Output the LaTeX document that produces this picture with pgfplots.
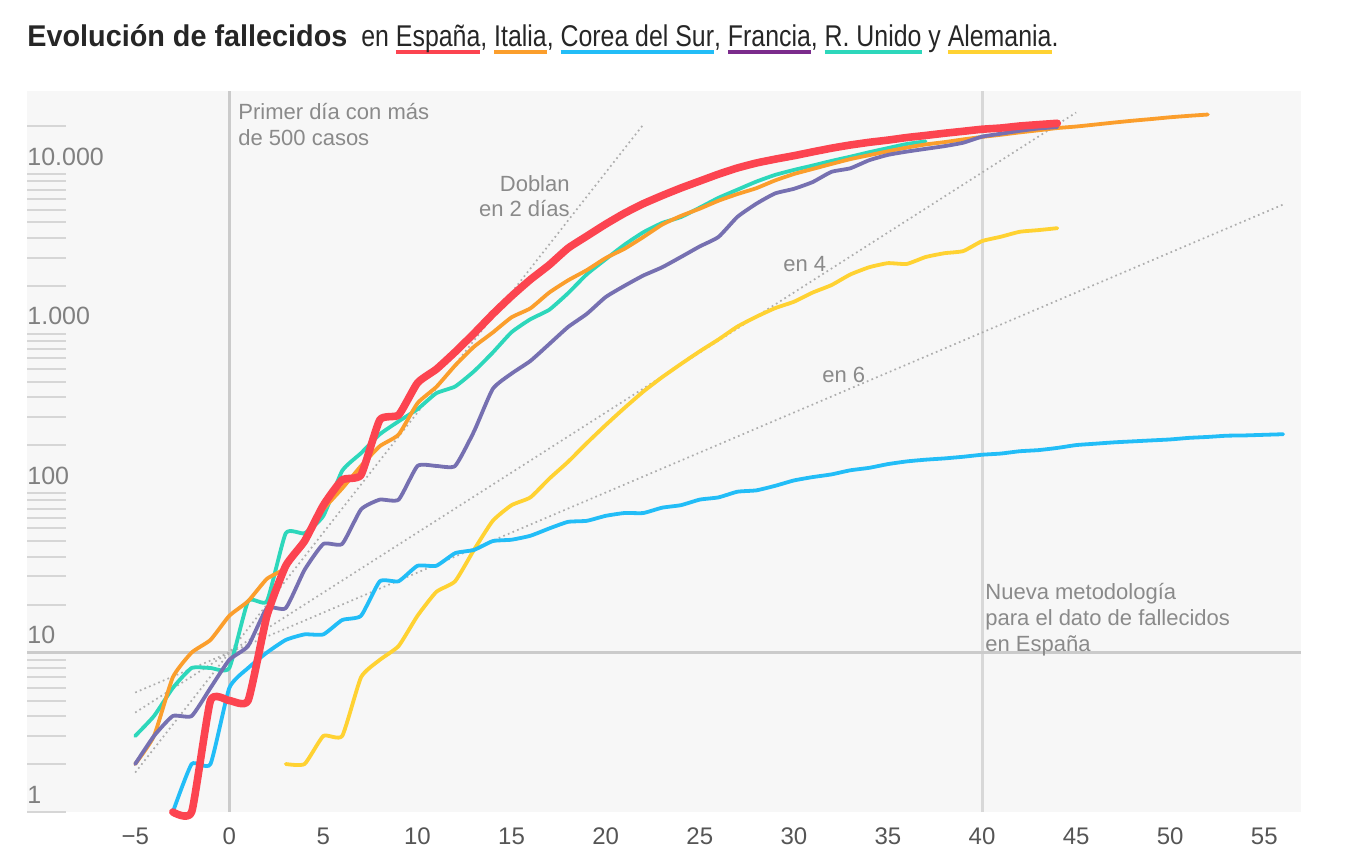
\documentclass[border=0pt]{standalone}
\usepackage{fontspec}
\setmainfont{Liberation Sans}
\usepackage{pgfplots}
\pgfplotsset{compat=1.18}
\usepackage{graphicx}

% series colours
\definecolor{cEsp}{HTML}{FC4450}
\definecolor{cIta}{HTML}{FB9E2C}
\definecolor{cCor}{HTML}{22BDF7}
\definecolor{cFra}{HTML}{7670B1}
\definecolor{cFraT}{HTML}{7B2C8C}
\definecolor{cRU}{HTML}{2DD7BB}
\definecolor{cAle}{HTML}{FFD232}
% frame colours
\definecolor{bgc}{HTML}{F7F7F7}
\definecolor{gridc}{HTML}{CBCBCB}
\definecolor{tickc}{HTML}{D6D6D6}
\definecolor{refc}{HTML}{ADADAD}
\definecolor{ytc}{HTML}{808080}
\definecolor{xtc}{HTML}{555555}
\definecolor{annc}{HTML}{8A8A8A}
\definecolor{titc}{HTML}{262626}

% coloured underline under a country name
\newcommand\ul[2]{\setbox0\hbox{#2}\rlap{\color{#1}\rule[-3.5pt]{\wd0}{2pt}}\box0\relax}
\newcommand\annfont{\fontsize{11pt}{13pt}\selectfont}

\pgfplotsset{
  serie/.style={line width=1.9pt, smooth, tension=0.3, line cap=round, line join=round},
  refline/.style={refc, line width=0.85pt, dash pattern=on 0.85pt off 1.65pt},
}

\begin{document}
\begin{tikzpicture}
\path[use as bounding box] (0,0) rectangle (678pt,432pt);
\begin{axis}[
  at={(13.5pt,26pt)}, anchor=south west,
  scale only axis, width=637pt, height=360.25pt,
  xmin=-10.75, xmax=56.95,
  ymode=log, ymin=1, ymax=33000,
  clip=false,
  axis background/.style={fill=bgc},
  axis line style={draw=none},
  xtick={-5,0,5,10,15,20,25,30,35,40,45,50,55},
  xticklabels={−5,0,5,10,15,20,25,30,35,40,45,50,55},
  xtick style={draw=none},
  xtick pos=bottom,
  xticklabel style={anchor=center, yshift=-12pt, inner sep=0pt, text=xtc,
    font=\fontsize{12pt}{14pt}\selectfont},
  ytick={1,10,100,1000,10000},
  yticklabels={1,10,100,1.000,10.000},
  minor ytick={2,3,4,5,6,7,8,9,20,30,40,50,60,70,80,90,200,300,400,500,600,700,800,900,2000,3000,4000,5000,6000,7000,8000,9000,20000},
  ytick pos=left,
  tick align=inside,
  major tick length=19.5pt,
  minor tick length=19.5pt,
  ytick style={draw=tickc, line width=1pt},
  minor tick style={draw=tickc, line width=1pt},
  yticklabel style={anchor=west, inner sep=0pt, yshift=8.75pt, text=ytc,
    font=\fontsize{12.5pt}{14pt}\selectfont},
]
% reference grid lines
\draw[gridc, line width=1.5pt] (axis cs:0,1) -- (axis cs:0,33000);
\draw[gridc!75, line width=1.5pt] (axis cs:40,1) -- (axis cs:40,33000);
\draw[gridc, line width=1.5pt] (axis cs:-10.75,10) -- (axis cs:56.95,10);

% doubling-time guides: 2, 4 and 6 days from 10 deaths on day 0
\addplot[refline] coordinates {(-5,1.768) (22,20480)};
\addplot[refline] coordinates {(-5,4.204) (45,24355)};
\addplot[refline] coordinates {(-5,5.612) (56,6451)};

% Alemania
\addplot[serie, cAle] coordinates {
(3,2)(4,2)(5,3)(6,3)(7,7)(8,9)(9,11)(10,17)(11,24)(12,28)(13,44)(14,67)(15,84)(16,94)
(17,123)(18,157)(19,206)(20,267)(21,342)(22,433)(23,533)(24,645)(25,775)(26,920)
(27,1107)(28,1275)(29,1444)(30,1584)(31,1810)(32,2016)(33,2349)(34,2607)(35,2767)
(36,2736)(37,3022)(38,3194)(39,3294)(40,3804)(41,4052)(42,4352)(43,4459)(44,4586)};

% Corea del Sur
\addplot[serie, cCor] coordinates {
(-3,1)(-2,2)(-1,2)(0,6)(1,8)(2,10)(3,12)(4,13)(5,13)(6,16)(7,17)(8,28)(9,28)(10,35)
(11,35)(12,42)(13,44)(14,50)(15,51)(16,54)(17,60)(18,66)(19,67)(20,72)(21,75)(22,75)
(23,81)(24,84)(25,91)(26,94)(27,102)(28,104)(29,111)(30,120)(31,126)(32,131)(33,139)
(34,144)(35,152)(36,158)(37,162)(38,165)(39,169)(40,174)(41,177)(42,183)(43,186)
(44,192)(45,200)(46,204)(47,208)(48,211)(49,214)(50,217)(51,222)(52,225)(53,229)
(54,230)(55,232)(56,234)};

% R. Unido
\addplot[serie, cRU] coordinates {
(-5,3)(-4,4)(-3,6)(-2,8)(-1,8)(0,8)(1,21)(2,21)(3,56)(4,56)(5,72)(6,138)(7,178)(8,234)
(9,282)(10,336)(11,423)(12,466)(13,580)(14,761)(15,1021)(16,1231)(17,1411)(18,1793)
(19,2357)(20,2926)(21,3611)(22,4320)(23,4943)(24,5385)(25,6171)(26,7111)(27,7993)
(28,8974)(29,9892)(30,10629)(31,11329)(32,12107)(33,12868)(34,13729)(35,14576)
(36,15464)(37,16060)};

% Italia
\addplot[serie, cIta] coordinates {
(-5,2)(-4,3)(-3,7)(-2,10)(-1,12)(0,17)(1,21)(2,29)(3,34)(4,52)(5,79)(6,107)(7,148)
(8,197)(9,233)(10,366)(11,463)(12,631)(13,827)(14,1016)(15,1266)(16,1441)(17,1809)
(18,2158)(19,2503)(20,2978)(21,3405)(22,4032)(23,4825)(24,5476)(25,6077)(26,6820)
(27,7503)(28,8165)(29,9134)(30,10023)(31,10779)(32,11591)(33,12428)(34,13155)
(35,13915)(36,14681)(37,15362)(38,15887)(39,16523)(40,17127)(41,17669)(42,18279)
(43,18849)(44,19468)(45,19899)(46,20465)(47,21067)(48,21645)(49,22170)(50,22745)
(51,23227)(52,23660)};

% Francia
\addplot[serie, cFra] coordinates {
(-5,2)(-4,3)(-3,4)(-2,4)(-1,6)(0,9)(1,11)(2,19)(3,19)(4,33)(5,48)(6,48)(7,79)(8,91)
(9,91)(10,148)(11,148)(12,148)(13,243)(14,450)(15,562)(16,674)(17,860)(18,1100)
(19,1331)(20,1696)(21,1995)(22,2314)(23,2606)(24,3024)(25,3523)(26,4043)(27,5398)
(28,6520)(29,7574)(30,8093)(31,8926)(32,10343)(33,10887)(34,12228)(35,13215)
(36,13851)(37,14412)(38,14986)(39,15748)(40,17188)(41,17941)(42,18703)(43,19345)
(44,19744)};

% España
\addplot[serie, cEsp, line width=3.8pt] coordinates {
(-3,1)(-2,1)(-1,5)(0,5)(1,5)(2,17)(3,35)(4,50)(5,84)(6,121)(7,130)(8,288)(9,309)
(10,491)(11,598)(12,767)(13,1002)(14,1326)(15,1720)(16,2182)(17,2696)(18,3434)
(19,4089)(20,4858)(21,5690)(22,6528)(23,7340)(24,8189)(25,9053)(26,10003)(27,10935)
(28,11744)(29,12418)(30,13055)(31,13798)(32,14555)(33,15238)(34,15843)(35,16353)
(36,16972)(37,17489)(38,18056)(39,18579)(40,19130)(41,19478)(42,20043)(43,20453)
(44,20852)};
\end{axis}

% title
\node[anchor=base west, inner sep=0pt, text=titc] at (13.5pt,408.5pt)
  {\fontsize{15pt}{18pt}\selectfont
   \resizebox{160pt}{\height}{\bfseries Evolución de fallecidos}\hspace{7pt}%
   \resizebox{348.5pt}{\height}{en \ul{cEsp}{España}, \ul{cIta}{Italia}, \ul{cCor}{Corea del Sur}, \ul{cFraT}{Francia}, \ul{cRU}{R. Unido} y \ul{cAle}{Alemania}.}};

% annotations
\begin{scope}[every node/.style={inner sep=0pt, text=annc, font=\annfont}]
\node[anchor=base west] at (119pt,372pt) {Primer día con más};
\node[anchor=base west] at (119pt,359pt) {de 500 casos};
\node[anchor=base east] at (285pt,336pt) {Doblan};
\node[anchor=base east] at (285pt,323.5pt) {en 2 días};
\node[anchor=base west] at (391.5pt,296pt) {en 4};
\node[anchor=base west] at (411pt,240.5pt) {en 6};
\node[anchor=base west] at (492.5pt,132.5pt) {Nueva metodología};
\node[anchor=base west] at (492.5pt,119.5pt) {para el dato de fallecidos};
\node[anchor=base west] at (492.5pt,106.5pt) {en España};
\end{scope}
\end{tikzpicture}
\end{document}
